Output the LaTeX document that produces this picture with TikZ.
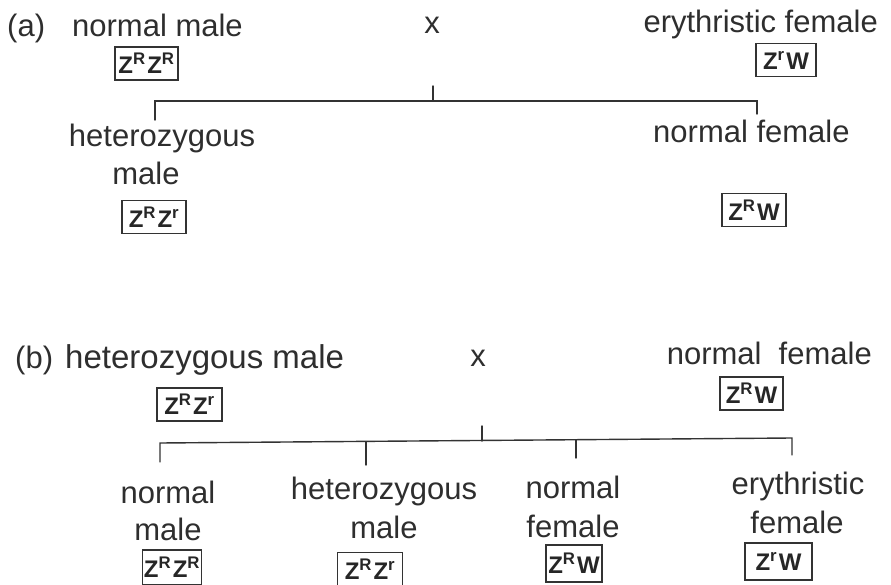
\documentclass[tikz,border=0pt]{standalone}
\usepackage{fontspec}
\setmainfont{Liberation Sans}
\newcommand{\zs}{\kern1.5pt}
\begin{document}
\begin{tikzpicture}[x=1pt,y=-1pt,
  lbl/.style={inner sep=0pt,anchor=base,text=black!82,font=\fontsize{31}{37}\selectfont},
  gbox/.style={draw=black!80,line width=1.1pt,inner sep=0pt,minimum height=33pt,text=black!85,font=\fontsize{24}{28}\selectfont\bfseries},
  link/.style={draw=black!80,line width=1.4pt,line cap=round}]
\useasboundingbox (0,0) rectangle (891,585);
% ---- (a)
\node[lbl,anchor=base west] (la) at (7,37) {(a)};
\node[lbl,anchor=base west] (pa1) at (72,37) {normal male};
\node[lbl] (xa) at (432,34) {x};
\node[lbl,anchor=base east] (pa2) at (878,33) {erythristic female};
\node[gbox,minimum width=63pt] (ga1) at (146.5,63.5) {Z\textsuperscript{R}\zs Z\textsuperscript{R}};
\node[gbox,minimum width=60pt] (ga2) at (786,60) {Z\textsuperscript{r}\zs W};
\coordinate (sa) at (433,86);
\coordinate (ja) at (433,101);
\coordinate (la1) at (155,101);
\coordinate (ra1) at (757,101);
\coordinate (la2) at (155,120);
\coordinate (ra2) at (757,114);
\draw[link] (sa) -- (ja);
\draw[link] (la2) -- (la1) -- (ra1) -- (ra2);
\node[lbl] (ca1) at (162,147) {heterozygous};
\node[lbl] (ca1b) at (146,185) {male};
\node[gbox,minimum width=64pt] (gc1) at (154,217) {Z\textsuperscript{R}\zs Z\textsuperscript{r}};
\node[lbl,anchor=base west] (ca2) at (653,143) {normal female};
\node[gbox,minimum width=64pt] (gc2) at (754,210) {Z\textsuperscript{R}\zs W};
% ---- (b)
\node[lbl,anchor=base west] (lb) at (15,368) {(b)};
\node[lbl,anchor=base west,font=\fontsize{33}{39}\selectfont] (pb1) at (65,368) {heterozygous male};
\node[lbl] (xb) at (478,366) {x};
\node[lbl,anchor=base east] (pb2) at (872,364) {normal\ \ female};
\node[gbox,minimum width=65pt] (gb1) at (189.5,404.5) {Z\textsuperscript{R}\zs Z\textsuperscript{r}};
\node[gbox,minimum width=63pt] (gb2) at (751.5,393.5) {Z\textsuperscript{R}\zs W};
\coordinate (sb) at (482,426);
\coordinate (jb) at (482,441);
\coordinate (lb1) at (160,443);
\coordinate (rb1) at (792,438);
\coordinate (lb2) at (160,462);
\coordinate (mb1) at (366,442);
\coordinate (mb2) at (366,465);
\coordinate (nb1) at (576,440);
\coordinate (nb2) at (576,458);
\coordinate (rb2) at (792,455);
\draw[link] (sb) -- (jb);
\draw[link] (lb2) -- (lb1) -- (rb1) -- (rb2);
\draw[link] (mb1) -- (mb2);
\draw[link] (nb1) -- (nb2);
\node[lbl] (d1) at (168,503) {normal};
\node[lbl] (d1b) at (168,540) {male};
\node[gbox,minimum width=59pt,minimum height=35pt] (gd1) at (172,567.5) {Z\textsuperscript{R}\zs Z\textsuperscript{R}};
\node[lbl] (d2) at (384,499) {heterozygous};
\node[lbl] (d2b) at (384,538) {male};
\node[gbox,minimum width=65pt,minimum height=33pt] (gd2) at (370,569) {Z\textsuperscript{R}\zs Z\textsuperscript{r}};
\node[lbl] (d3) at (573,498) {normal};
\node[lbl] (d3b) at (573,537) {female};
\node[gbox,minimum width=56pt,minimum height=37pt] (gd3) at (574,563.5) {Z\textsuperscript{R}\zs W};
\node[lbl] (d4) at (798,494) {erythristic};
\node[lbl] (d4b) at (797,533) {female};
\node[gbox,minimum width=67pt,minimum height=37pt] (gd4) at (778.5,561.5) {Z\textsuperscript{r}\zs W};
\end{tikzpicture}
\end{document}
